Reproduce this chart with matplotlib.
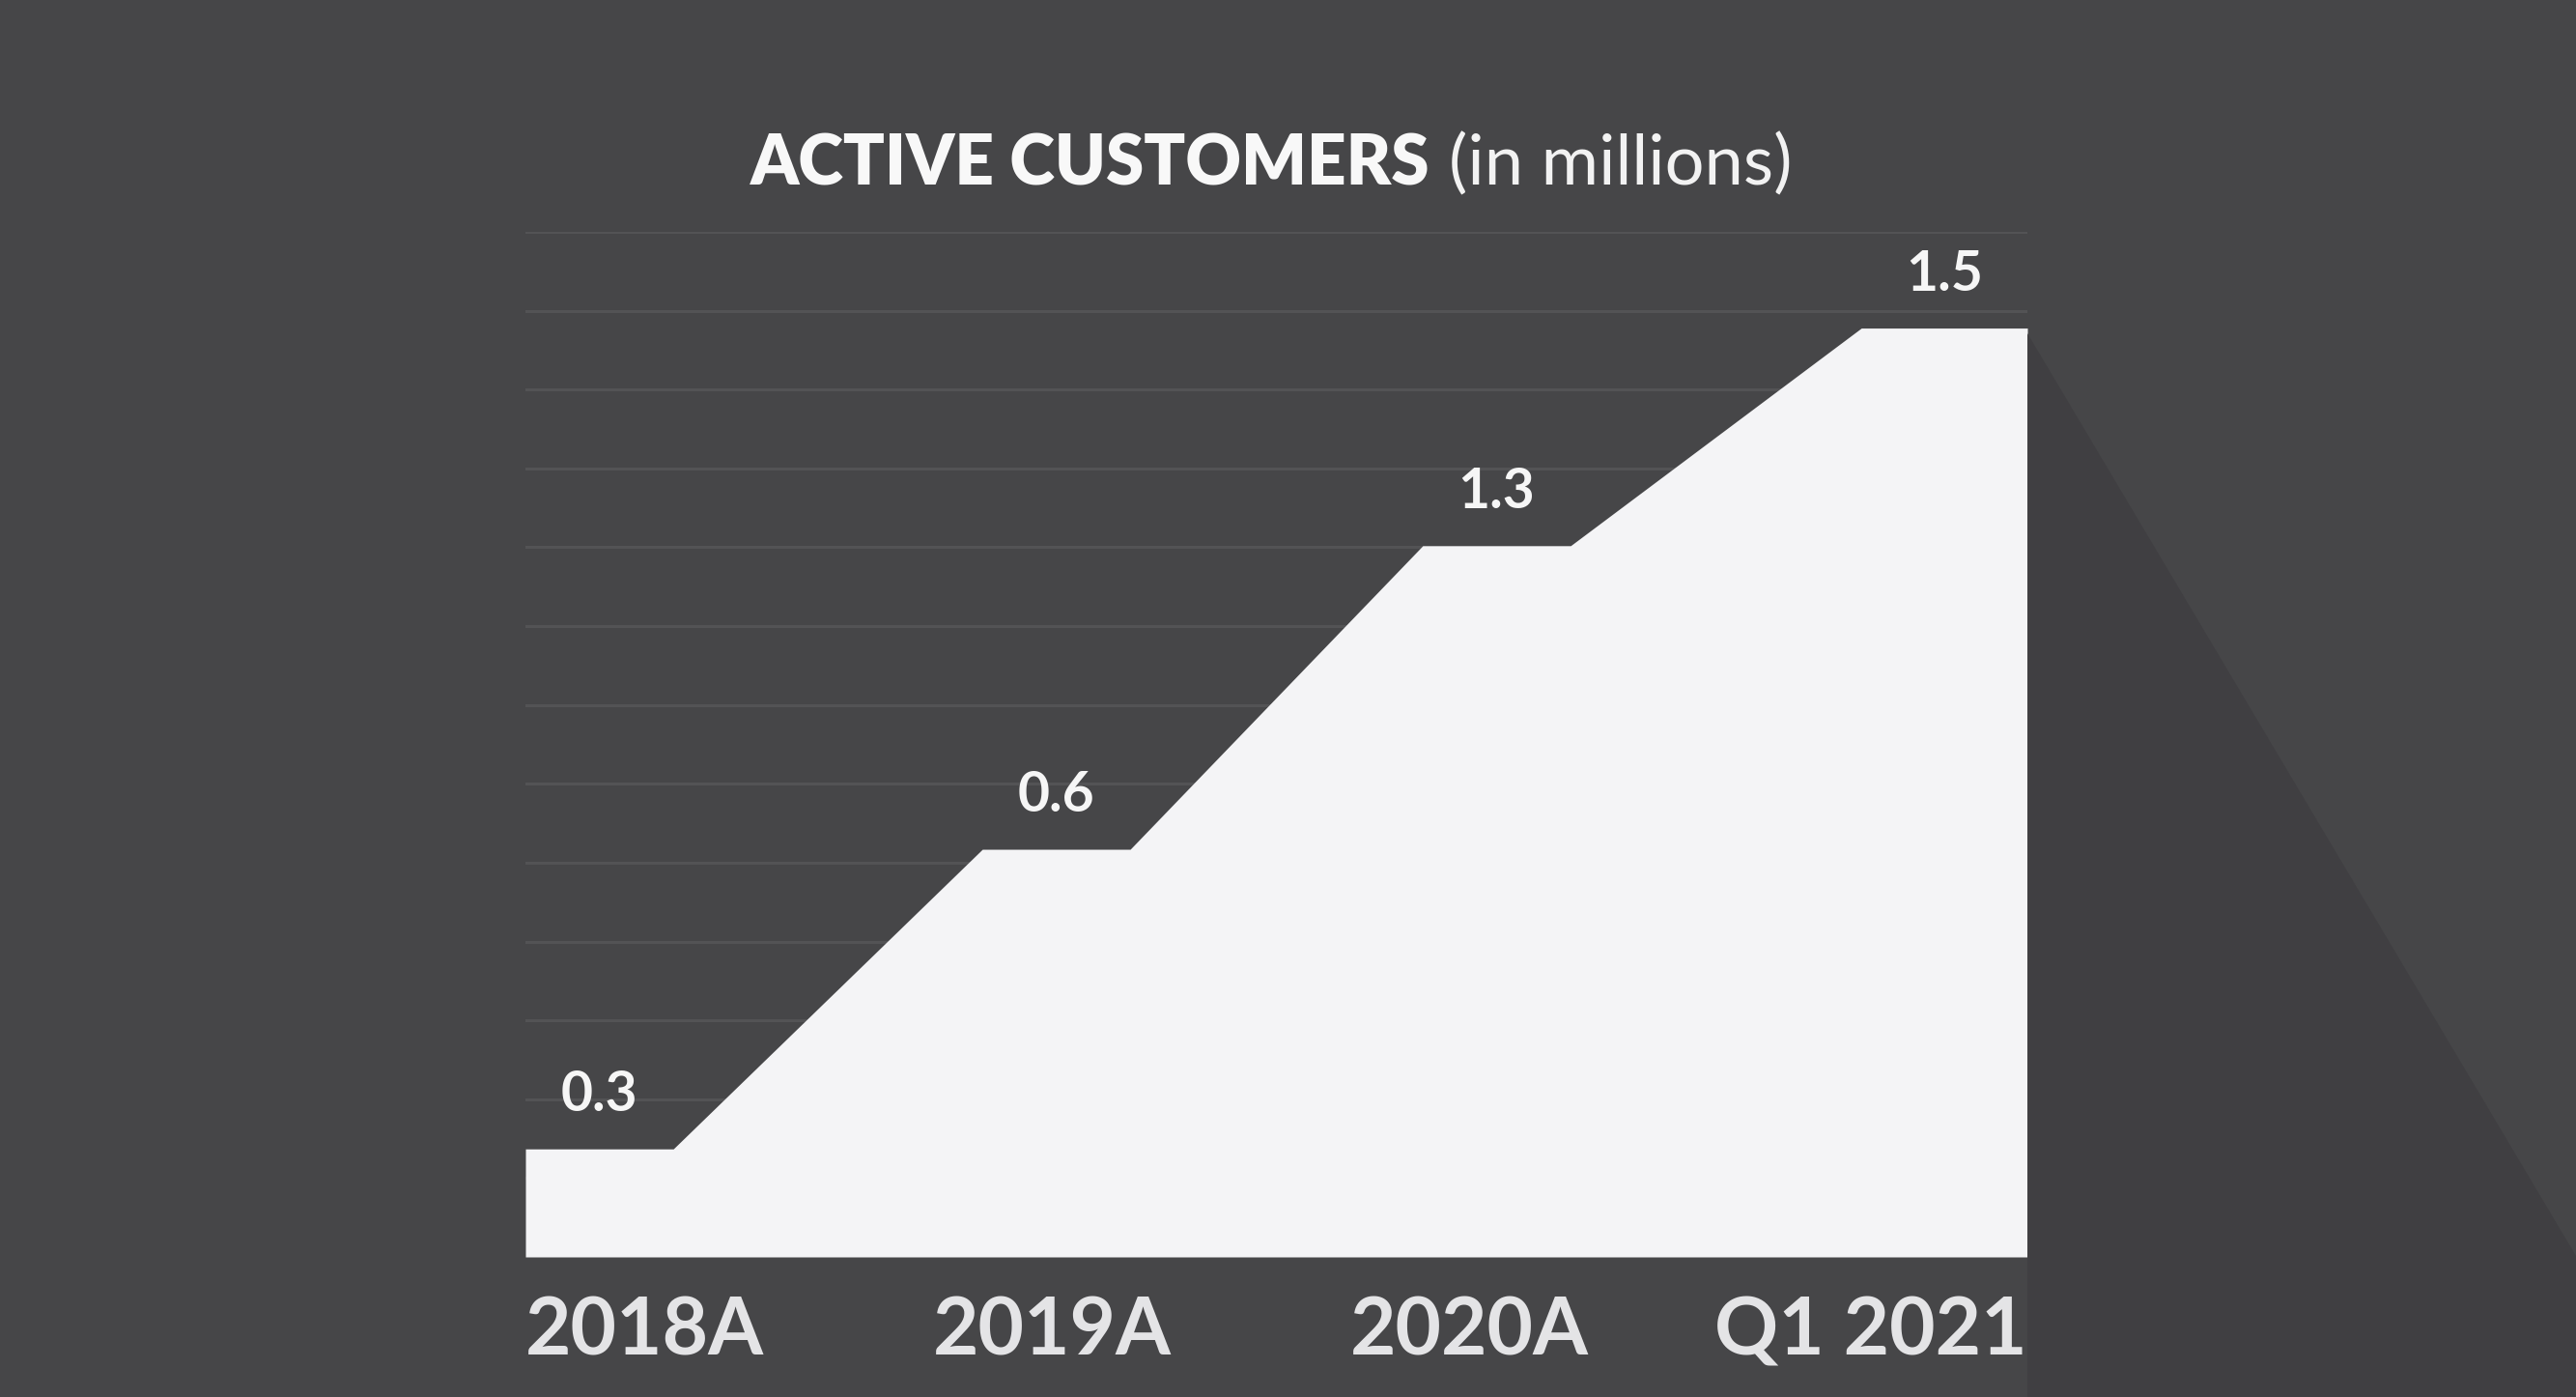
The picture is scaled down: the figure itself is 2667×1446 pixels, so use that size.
import matplotlib.pyplot as plt
from matplotlib.patches import Polygon

# дані з картинки
periods = ["2018A", "2019A", "2020A", "Q1 2021"]
customers = ["0.3", "0.6", "1.3", "1.5"]
# висота сходинок у поділках сітки (графік стилізований, не пропорційний)
levels = [1.37, 5.17, 9.02, 11.78]

# розмітка по осі x (в одиницях ~461 px)
x_start = [0, 1.026, 2.015, 3.0]
plateau = 0.332
x_end = 3.373
label_shift = [0, -0.01, -0.06, 0]

BG = "#464648"
FILL = "#f4f4f6"
GRID = "#535355"
SHADOW = "#403f42"

plt.rcParams['font.family'] = ['Lato', 'DejaVu Sans']

W, H = 2667, 1446
fig = plt.figure(figsize=(W / 100, H / 100), dpi=100, facecolor=BG)

# довга тінь праворуч від області
fig.patches.append(Polygon(
    [(2099 / W, 1 - 345 / H), (1, 1 - 1300 / H), (1, 0), (2099 / W, 0)],
    closed=True, transform=fig.transFigure, facecolor=SHADOW,
    edgecolor='none', zorder=0))

ax = fig.add_axes([544 / W, 1 - 1301 / H, (2099 - 544) / W, (1301 - 240) / H])
ax.set_facecolor('none')

rights = [x + plateau for x in x_start[:-1]] + [x_end]
xs, ys = [], []
for x0, x1, lv in zip(x_start, rights, levels):
    xs += [x0, x1]
    ys += [lv, lv]
ax.fill_between(xs, 0, ys, color=FILL, linewidth=0, zorder=3)

# сітка
for k in range(1, 14):
    ax.axhline(k, color=GRID, linewidth=2.2, zorder=1)

# підписи значень над сходинками
for x0, x1, lv, txt in zip(x_start, rights, levels, customers):
    ax.annotate(txt, ((x0 + x1) / 2, lv), xytext=(0, 40),
                textcoords='offset points', ha='center', va='center',
                fontsize=41, fontweight='bold', color='#f6f6f6', zorder=4)

ax.set_xlim(0, x_end)
ax.set_ylim(0, 13)
ax.set_yticks([])
ax.set_xticks([])
for s in ax.spines.values():
    s.set_visible(False)

# підписи періодів
for i, p in enumerate(periods):
    if i == 0:
        x, ha = 0, 'left'
    elif i == len(periods) - 1:
        x, ha = x_end, 'right'
    else:
        x, ha = (x_start[i] + rights[i]) / 2 + label_shift[i], 'center'
    ax.text(x, -0.5, p, ha=ha, va='top', fontsize=59, fontweight='bold',
            color='#e4e4e6', clip_on=False)

# заголовок з двох частин
fig.text(1480 / W, 1 - 170 / H, "ACTIVE CUSTOMERS", ha='right', va='center',
         fontsize=51, fontweight='heavy', color='#f8f8f8')
fig.text(1500 / W, 1 - 170 / H, "(in millions)", ha='left', va='center',
         fontsize=52, fontweight='normal', color='#f2f2f2')

fig.savefig("out.png", dpi=100, facecolor=BG)
